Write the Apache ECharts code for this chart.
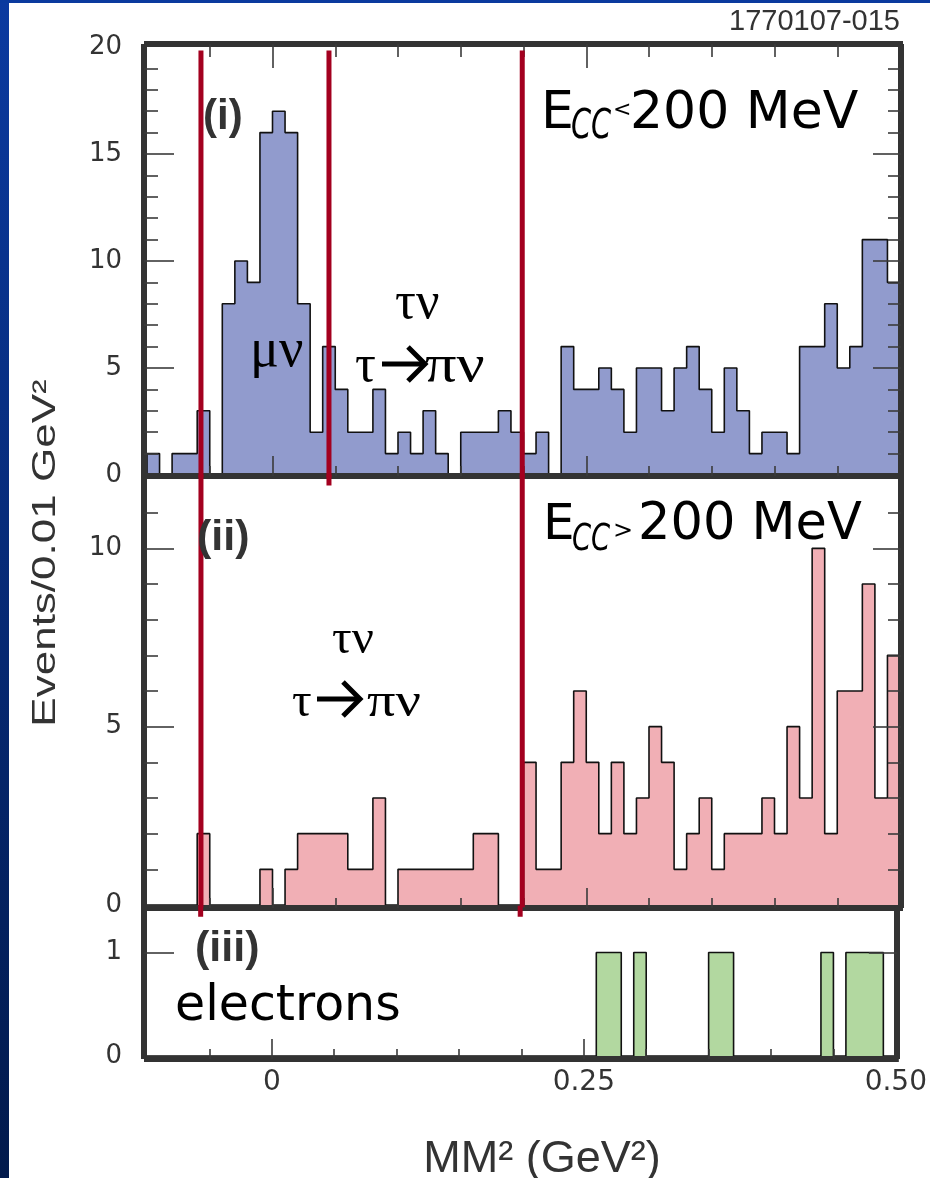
<!DOCTYPE html>
<html>
<head>
<meta charset="utf-8">
<script src="https://cdn.jsdelivr.net/npm/echarts@6/dist/echarts.min.js"></script>
<style>
  html, body { margin: 0; padding: 0; background: #ffffff; }
  #chart { width: 930px; height: 1178px; }
</style>
</head>
<body>
<div id="chart"></div>
<script>
// Missing-mass-squared distributions, bins of 0.01 GeV^2 starting at -0.10
const binStart = -0.10;
const binWidth = 0.01;
const xMin = -0.10;
const xMax = 0.50;

// (i) E_CC < 200 MeV
const countsLowECC = [
  1, 0, 1, 1, 3, 0, 8, 10, 9, 16,
  17, 16, 8, 2, 6, 4, 2, 2, 4, 1,
  2, 1, 3, 1, 0, 2, 2, 2, 3, 2,
  1, 2, 0, 6, 4, 4, 5, 4, 2, 5,
  5, 3, 5, 6, 4, 2, 5, 3, 1, 2,
  2, 1, 6, 6, 8, 5, 6, 11, 11, 9
];
// (ii) E_CC > 200 MeV
const countsHighECC = [
  0, 0, 0, 0, 2, 0, 0, 0, 0, 1,
  0, 1, 2, 2, 2, 2, 1, 1, 3, 0,
  1, 1, 1, 1, 1, 1, 2, 2, 0, 0,
  4, 1, 1, 4, 6, 4, 2, 4, 2, 3,
  5, 4, 1, 2, 3, 1, 2, 2, 2, 3,
  2, 5, 3, 10, 2, 6, 6, 9, 3, 7
];
// (iii) electrons
const countsElectrons = [
  0, 0, 0, 0, 0, 0, 0, 0, 0, 0,
  0, 0, 0, 0, 0, 0, 0, 0, 0, 0,
  0, 0, 0, 0, 0, 0, 0, 0, 0, 0,
  0, 0, 0, 0, 0, 0, 1, 1, 0, 1,
  0, 0, 0, 0, 0, 1, 1, 0, 0, 0,
  0, 0, 0, 0, 1, 0, 1, 1, 1, 0
];

// Signal-region boundaries (GeV^2)
const cutValues = [-0.057, 0.045, 0.199];

// Axis ticks and labels
const xMajorTicks = [0, 0.25, 0.5];
const xTickLabels = ['0', '0.25', '0.50'];
const xMinorTicks = [-0.05, 0.05, 0.10, 0.15, 0.20, 0.30, 0.35, 0.40, 0.45];

const yMaxes = [20, 12, 1.43];
const yMajorTicks = [[0, 5, 10, 15, 20], [0, 5, 10], [0, 1]];
const yMinorTicks = [
  [1, 2, 3, 4, 6, 7, 8, 9, 11, 12, 13, 14, 16, 17, 18, 19],
  [1, 2, 3, 4, 6, 7, 8, 9, 11],
  []
];

const FRAME = '#333333';
const TICK = '#3a3a3a';
const LABEL = '#333333';

const grids = [
  { left: 147, width: 753, top: 47,  height: 428 },
  { left: 147, width: 753, top: 477, height: 428 },
  { left: 147, width: 753, top: 908, height: 148 }
];

const xAxes = [];
const yAxes = [];
const mainX = [];
const mainY = [];

function near(a, b) { return Math.abs(a - b) < 1e-9; }

function xAxisDef(g, position, offset, ticks, len, lineShow, withLabels) {
  return {
    gridIndex: g, type: 'value', min: xMin, max: xMax, position: position, offset: offset,
    axisLine: { show: lineShow, onZero: false, lineStyle: { color: FRAME, width: 6, cap: 'square' } },
    axisTick: { show: ticks.length > 0, inside: true, length: len, customValues: ticks,
                lineStyle: { color: TICK, width: 1.6 } },
    axisLabel: withLabels ? {
      show: true, customValues: xMajorTicks, margin: 10,
      fontFamily: 'DejaVu Sans', fontSize: 28, color: LABEL,
      formatter: function (v) {
        for (let i = 0; i < xMajorTicks.length; i++) if (near(v, xMajorTicks[i])) return xTickLabels[i];
        return '';
      }
    } : { show: false },
    splitLine: { show: false },
    z: 5
  };
}

function yAxisDef(g, position, offset, ticks, len, lineShow, labels) {
  return {
    gridIndex: g, type: 'value', min: 0, max: yMaxes[g], position: position, offset: offset,
    axisLine: { show: lineShow, onZero: false, lineStyle: { color: FRAME, width: 6, cap: 'square' } },
    axisTick: { show: ticks.length > 0, inside: true, length: len, customValues: ticks,
                lineStyle: { color: TICK, width: 1.6 } },
    axisLabel: labels ? {
      show: true, customValues: labels, margin: 22,
      fontFamily: 'DejaVu Sans', fontSize: 26, color: LABEL
    } : { show: false },
    splitLine: { show: false },
    z: 5
  };
}

const xMajorInside = xMajorTicks.filter(v => v > xMin && v < xMax);
const bottomOffsets = [1, 3, 3];

grids.forEach((gr, g) => {
  // bottom edge: frame line, major and minor ticks
  mainX[g] = xAxes.length;
  xAxes.push(xAxisDef(g, 'bottom', bottomOffsets[g], xMajorInside, 20, true, g === 2));
  xAxes.push(xAxisDef(g, 'bottom', bottomOffsets[g], xMinorTicks, 10, false, false));
  // top edge of the upper panel carries its own frame and ticks
  if (g === 0) {
    xAxes.push(xAxisDef(g, 'top', 3, xMajorInside, 24, true, false));
    xAxes.push(xAxisDef(g, 'top', 3, xMinorTicks, 13, false, false));
  }
  const majorInside = yMajorTicks[g].filter(v => v > 0 && v < yMaxes[g]);
  mainY[g] = yAxes.length;
  yAxes.push(yAxisDef(g, 'left', 3, majorInside, 30, true, yMajorTicks[g]));
  yAxes.push(yAxisDef(g, 'left', 3, yMinorTicks[g], 14, false, null));
  yAxes.push(yAxisDef(g, 'right', 1, majorInside, 28, true, null));
  yAxes.push(yAxisDef(g, 'right', 1, yMinorTicks[g], 13, false, null));
});

// Histogram outline as a step curve over the bin edges
function stepData(counts) {
  const pts = [[binStart, 0]];
  counts.forEach((c, i) => pts.push([binStart + i * binWidth, c]));
  const end = binStart + counts.length * binWidth;
  pts.push([end, counts[counts.length - 1]]);
  pts.push([end, 0]);
  return pts;
}

const histograms = [
  { counts: countsLowECC,     fill: '#919bcd' },
  { counts: countsHighECC,    fill: '#f1afb5' },
  { counts: countsElectrons,  fill: '#b2d8a0' }
];

const series = histograms.map((h, g) => ({
  type: 'line', step: 'end', xAxisIndex: mainX[g], yAxisIndex: mainY[g],
  data: stepData(h.counts), symbol: 'none', silent: true,
  lineStyle: { color: '#111111', width: 1.6 },
  areaStyle: { color: h.fill, opacity: 1 },
  z: 2
}));

// Cut lines run through the upper two panels and just into the lowest one
const cutSpans = [
  [[19.72, 0], [19.72, 0], [19.72, 0]],
  [[12, 0], [12, 11.83], [12, 0]],
  [[1.43, 1.37], null, [1.43, 1.37]]
];
cutSpans.forEach((spans, g) => {
  spans.forEach((span, k) => {
    if (!span) return;
    series.push({
      type: 'line', xAxisIndex: mainX[g], yAxisIndex: mainY[g],
      data: [[cutValues[k], span[0]], [cutValues[k], span[1]]],
      symbol: 'none', silent: true,
      lineStyle: { color: '#a3001f', width: 5, cap: 'square' },
      z: 10
    });
  });
});

function txt(x, y, text, font, extra) {
  return Object.assign({
    type: 'text', x: x, y: y, z: 20, silent: true,
    style: Object.assign({ text: text, font: font, fill: '#000000', textAlign: 'left', textVerticalAlign: 'middle' },
                         (extra && extra.style) || {})
  }, (extra && extra.el) || {});
}

// Heavy arrow with an open chevron head, drawn as a polyline
function arrow(x0, x1, y, head) {
  return {
    type: 'group', z: 20, silent: true,
    children: [
      { type: 'line', shape: { x1: x0, y1: y, x2: x1 - 2, y2: y },
        style: { stroke: '#000000', lineWidth: 5 } },
      { type: 'polyline', shape: { points: [[x1 - head, y - head], [x1, y], [x1 - head, y + head]] },
        style: { stroke: '#000000', lineWidth: 5, fill: null, lineJoin: 'miter' } }
    ]
  };
}

const comic = '"DejaVu Sans"';
const serif = '"Liberation Serif"';

const graphic = [
  // blue slide border
  { type: 'rect', shape: { x: 0, y: 0, width: 9, height: 1178 }, z: 0, silent: true,
    style: { fill: new echarts.graphic.LinearGradient(0, 0, 0, 1, [
      { offset: 0, color: '#0b3aa0' }, { offset: 1, color: '#021a4c' }]) } },
  { type: 'rect', shape: { x: 0, y: 0, width: 930, height: 3 }, z: 0, silent: true,
    style: { fill: '#0a3a9e' } },

  txt(900, 22, '1770107-015', '29px "Liberation Sans"', { style: { textAlign: 'right', fill: '#333333' } }),

  // panel tags
  txt(203, 117, '(i)', 'bold 42px "Liberation Sans"', { style: { fill: '#333333' } }),
  txt(197, 538, '(ii)', 'bold 43px "Liberation Sans"', { style: { fill: '#333333' } }),
  txt(195, 949, '(iii)', 'bold 43px "Liberation Sans"', { style: { fill: '#333333' } }),

  // panel (i) energy selection
  txt(541, 114, 'E', '52px ' + comic),
  txt(571, 128, 'CC', 'oblique 40px ' + comic, { el: { scaleX: 0.72 } }),
  txt(613, 110, '<', '22px ' + comic),
  txt(630, 114, '200 MeV', '52px ' + comic),

  // panel (ii) energy selection
  txt(543, 526, 'E', '50px ' + comic),
  txt(572, 540, 'CC', 'oblique 38px ' + comic, { el: { scaleX: 0.72 } }),
  txt(613, 532, '>', '24px ' + comic),
  txt(638, 526, '200 MeV', '51px ' + comic),

  txt(175, 1007, 'electrons', '49px ' + comic),

  // decay-mode labels
  txt(250, 352, 'μν', '54px ' + serif),
  txt(395, 304, 'τν', '52px ' + serif),
  txt(355, 367, 'τ', '52px ' + serif),
  arrow(382, 425, 364, 17),
  txt(425, 367, 'πν', '52px ' + serif, { el: { scaleX: 1.2 } }),

  txt(332, 640, 'τν', '49px ' + serif),
  txt(292, 703, 'τ', '49px ' + serif),
  arrow(317, 360, 699, 17),
  txt(367, 703, 'πν', '49px ' + serif, { el: { scaleX: 1.15 } }),

  // axis titles
  txt(542, 1160, 'MM² (GeV²)', '45px "Liberation Sans"', { style: { textAlign: 'center', fill: '#333333' } }),
  txt(46, 553, 'Events/0.01 GeV²', '44px "Liberation Sans"',
      { style: { textAlign: 'center', fill: '#333333' }, el: { rotation: Math.PI / 2, scaleY: 0.74 } })
];

const chart = echarts.init(document.getElementById('chart'), null, { renderer: 'canvas' });
chart.setOption({
  animation: false,
  backgroundColor: '#ffffff',
  grid: grids,
  xAxis: xAxes,
  yAxis: yAxes,
  series: series,
  graphic: graphic
});
</script>
</body>
</html>
